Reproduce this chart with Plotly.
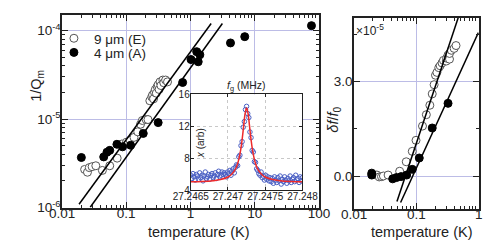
import plotly.graph_objects as go

# ---------------- Left panel: 1/Q_m vs temperature ----------------
E_T = [0.0225, 0.0249, 0.0266, 0.0294, 0.0336, 0.0425, 0.0553, 0.0722, 0.0855, 0.101,
       0.115, 0.132, 0.151, 0.167, 0.178, 0.204, 0.218, 0.233, 0.249, 0.257, 0.266,
       0.275, 0.284, 0.294, 0.304, 0.314, 0.325, 0.336, 0.347, 0.372, 0.384, 0.410, 0.439]
E_Q = [2.70e-6, 2.51e-6, 2.83e-6, 2.90e-6, 2.97e-6, 2.63e-6, 2.97e-6, 3.62e-6, 5.23e-6, 5.49e-6,
       5.76e-6, 6.21e-6, 7.18e-6, 8.74e-6, 9.64e-6, 9.88e-6, 9.88e-6, 1.61e-5, 1.78e-5, 1.87e-5, 1.69e-5,
       2.01e-5, 2.16e-5, 1.96e-5, 2.33e-5, 2.44e-5, 2.16e-5, 2.63e-5, 2.39e-5, 2.76e-5, 2.57e-5, 2.76e-5, 2.63e-5]
A_T = [0.0200, 0.0446, 0.0501, 0.0553, 0.0716, 0.0875, 0.117, 0.184, 0.314,
       0.755, 1.02, 1.25, 1.40, 1.32, 4.20, 7.00, 76.6]
A_Q = [3.68e-6, 3.74e-6, 4.22e-6, 4.43e-6, 5.19e-6, 4.86e-6, 5.06e-6, 6.89e-6, 9.12e-6,
       2.59e-5, 4.70e-5, 5.77e-5, 5.32e-5, 4.44e-5, 7.24e-5, 8.53e-5, 1.135e-4]
fitE_T = [0.0184, 2.10]
fitE_Q = [1.09e-6, 1.20e-4]
fitA_T = [0.0275, 3.14]
fitA_Q = [1.01e-6, 1.20e-4]

# ---------------- Right panel: delta f / f0 (x1e-5) ----------------
dE_T = [0.0232, 0.0253, 0.0275, 0.0295, 0.0351, 0.0538, 0.0686, 0.0857, 0.0984, 0.125,
        0.144, 0.164, 0.179, 0.192, 0.202, 0.213, 0.228, 0.240, 0.257, 0.271, 0.301,
        0.305, 0.321, 0.339, 0.339, 0.363, 0.402, 0.431]
dE_v = [0.04, -0.02, -0.01, 0.01, 0.04, 0.16, 0.46, 0.79, 1.14, 1.59,
        1.95, 2.25, 2.61, 2.90, 3.20, 3.29, 3.44, 3.50, 3.59, 3.67, 3.65,
        3.74, 3.84, 3.71, 3.89, 3.99, 4.05, 4.14]
dA_T = [0.0192, 0.0192, 0.0416, 0.0478, 0.0568, 0.0697, 0.0857, 0.111, 0.179, 0.321]
dA_v = [0.10, 0.04, -0.08, -0.04, -0.01, 0.04, 0.22, 0.58, 1.53, 2.31]
dfitE_T = [0.0487, 0.478]
dfitE_v = [-0.80, 5.08]
dfitA_T = [0.0557, 0.984]
dfitA_v = [-0.83, 4.55]

# ---------------- Inset: resonance ----------------
ins_f = [27.246500, 27.246515, 27.246530, 27.246545, 27.246560, 27.246575, 27.246590, 27.246605,
         27.246620, 27.246635, 27.246650, 27.246665, 27.246680, 27.246695, 27.246710, 27.246725,
         27.246740, 27.246755, 27.246770, 27.246785, 27.246800, 27.246815, 27.246830, 27.246845,
         27.246860, 27.246875, 27.246890, 27.246905, 27.246920, 27.246935, 27.246950, 27.246965,
         27.246980, 27.246995, 27.247010, 27.247025, 27.247040, 27.247055, 27.247070, 27.247085,
         27.247100, 27.247115, 27.247130, 27.247145, 27.247160, 27.247175, 27.247190, 27.247205,
         27.247220, 27.247235, 27.247250, 27.247265, 27.247280, 27.247295, 27.247310, 27.247325,
         27.247340, 27.247355, 27.247370, 27.247385, 27.247400, 27.247415, 27.247430, 27.247445,
         27.247460, 27.247475, 27.247490, 27.247505, 27.247520, 27.247535, 27.247550, 27.247565,
         27.247580, 27.247595, 27.247610, 27.247625, 27.247640, 27.247655, 27.247670, 27.247685,
         27.247700, 27.247715, 27.247730, 27.247745, 27.247760, 27.247775, 27.247790, 27.247805,
         27.247820, 27.247835, 27.247850, 27.247865, 27.247880, 27.247895, 27.247910, 27.247925,
         27.247940, 27.247955, 27.247970, 27.247985, 27.248000]
ins_chi = [5.9, 5.5, 6.1, 5.7, 5.3, 6.0, 5.8, 5.4, 6.2, 5.6, 5.9, 5.2, 5.8, 6.3, 5.5, 5.7, 6.0, 5.4, 5.9, 6.1, 5.6,
           5.8, 6.2, 5.5, 6.0, 6.4, 5.7, 5.9, 6.3, 6.0, 6.2,
           6.0, 5.7, 6.3, 6.1, 6.5, 5.9, 6.4, 6.7, 6.2, 6.9,
           7.2, 7.1, 8.2, 8.4, 9.6, 10.1, 11.9, 12.6, 14.1, 14.5,
           13.6, 13.1, 11.3, 10.6, 9.0, 8.8, 7.6, 7.5, 6.7, 6.5,
           6.1, 5.9, 6.3, 5.6, 5.8, 5.3, 5.9, 5.4, 5.7, 5.2,
           5.6, 5.1, 5.5, 4.9, 5.7, 5.3, 5.0, 5.6, 5.2, 5.8, 4.8, 5.4, 5.1, 5.7, 5.3,
           4.9, 5.5, 5.2, 5.8, 5.0, 5.4, 5.6, 5.1, 5.9, 5.3, 5.5, 5.0, 5.7, 5.2, 5.6]
fit_f = [27.24650, 27.24665, 27.24680, 27.24690, 27.24700, 27.24705, 27.24710, 27.24713, 27.24715,
         27.24717, 27.24719, 27.24721, 27.24723, 27.24725, 27.24727, 27.24729, 27.24731, 27.24733,
         27.24735, 27.24737, 27.24740, 27.24745, 27.24750, 27.24760, 27.24770, 27.24785, 27.24800]
fit_chi = [5.08, 5.12, 5.22, 5.36, 5.68, 6.02, 6.66, 7.36, 8.06, 9.03, 10.36, 12.01, 13.60, 14.30,
           13.60, 12.01, 10.36, 9.03, 8.06, 7.36, 6.66, 6.02, 5.68, 5.36, 5.22, 5.12, 5.08]

left_xticks = [0.01, 0.1, 1, 10, 100]
left_xtext = ["0.01", "0.1", "1", "10", "100"]
left_yticks = [1e-6, 1e-5, 1e-4]
left_ytext = ["10<sup>-6</sup>", "10<sup>-5</sup>", "10<sup>-4</sup>"]
right_xticks = [0.01, 0.1, 1]
right_xtext = ["0.01", "0.1", "1"]
right_yticks = [0, 3]
right_ytext = ["0.0", "3.0"]
ins_xticks = [27.2465, 27.247, 27.2475, 27.248]
ins_xtext = ["27.2465", "27.247", "27.2475", "27.248"]
ins_yticks = [4, 8, 12, 16]

W, H = 491, 242
FONT = "Liberation Sans, Arial, sans-serif"
INK = "#222222"
GRID = "#bcbce6"

def px(a, b):
    return [a / W, b / W]

def py(top, bottom):
    return [(H - bottom) / H, (H - top) / H]

def logminor(e0, e1):
    return [k * 10 ** e for e in range(e0, e1) for k in range(2, 10)]

fig = go.Figure()

open_marker = dict(symbol="circle", size=8, color="white", line=dict(color="#555555", width=1))
filled_marker = dict(symbol="circle", size=8, color="black", line=dict(color="black", width=1))

fig.add_trace(go.Scatter(x=E_T, y=E_Q, mode="markers", marker=open_marker,
                         name="9 \u03bcm (E)", xaxis="x", yaxis="y", legend="legend"))
fig.add_trace(go.Scatter(x=A_T, y=A_Q, mode="markers", marker=filled_marker,
                         name="4 \u03bcm (A)", xaxis="x", yaxis="y", legend="legend2"))
fig.add_trace(go.Scatter(x=fitE_T, y=fitE_Q, mode="lines", line=dict(color="black", width=1.5),
                         showlegend=False, xaxis="x", yaxis="y"))
fig.add_trace(go.Scatter(x=fitA_T, y=fitA_Q, mode="lines", line=dict(color="black", width=1.5),
                         showlegend=False, xaxis="x", yaxis="y"))

fig.add_trace(go.Scatter(x=dE_T, y=dE_v, mode="markers", marker=open_marker,
                         showlegend=False, xaxis="x2", yaxis="y2"))
fig.add_trace(go.Scatter(x=dA_T, y=dA_v, mode="markers", marker=filled_marker,
                         showlegend=False, xaxis="x2", yaxis="y2"))
fig.add_trace(go.Scatter(x=dfitE_T, y=dfitE_v, mode="lines", line=dict(color="black", width=1.5),
                         showlegend=False, xaxis="x2", yaxis="y2"))
fig.add_trace(go.Scatter(x=dfitA_T, y=dfitA_v, mode="lines", line=dict(color="black", width=1.5),
                         showlegend=False, xaxis="x2", yaxis="y2"))

fig.add_trace(go.Scatter(x=ins_f, y=ins_chi, mode="markers",
                         marker=dict(symbol="circle-open", size=4.5, color="#4a5fc4", line=dict(width=1)),
                         showlegend=False, xaxis="x3", yaxis="y3"))
fig.add_trace(go.Scatter(x=fit_f, y=fit_chi, mode="lines", line=dict(color="#ee2a2a", width=1.5, shape="spline"),
                         showlegend=False, xaxis="x3", yaxis="y3"))

common = dict(showline=True, linecolor=INK, linewidth=1.5, mirror="allticks", ticks="inside",
              tickcolor=INK, ticklen=6, tickwidth=1, zeroline=False,
              tickfont=dict(family=FONT, size=13.5, color=INK))

fig.update_layout(
    width=W, height=H, margin=dict(l=0, r=0, t=0, b=0),
    paper_bgcolor="white", plot_bgcolor="white",
    font=dict(family=FONT, color=INK),
    xaxis=dict(type="log", domain=px(38.7, 314.7), range=[-2, 2], anchor="y",
               tickvals=left_xticks, ticktext=left_xtext, showgrid=True, gridcolor=GRID, gridwidth=1,
               minor=dict(tickvals=logminor(-2, 2), ticks="inside", ticklen=3, tickcolor=INK, showgrid=False),
               ticklabelstandoff=-8, **common),
    yaxis=dict(type="log", domain=py(1, 205.5), range=[-6, -3.824], anchor="x",
               tickvals=left_yticks, ticktext=left_ytext, showgrid=True, gridcolor=GRID, gridwidth=1,
               minor=dict(tickvals=logminor(-6, -3), ticks="inside", ticklen=3, tickcolor=INK, showgrid=False),
               ticklabelstandoff=-3, **common),
    xaxis2=dict(type="log", domain=px(352.5, 486.5), range=[-2, 0], anchor="y2",
                tickvals=right_xticks, ticktext=right_xtext, showgrid=True, gridcolor=GRID, gridwidth=1,
                minor=dict(tickvals=logminor(-2, 0), ticks="inside", ticklen=3, tickcolor=INK, showgrid=False),
                ticklabelstandoff=-8, **common),
    yaxis2=dict(domain=py(4, 207), range=[-1.036, 5.02], anchor="x2",
                tickvals=right_yticks, ticktext=right_ytext, showgrid=True, gridcolor=GRID, gridwidth=1,
                minor=dict(tickvals=[1.5, 4.5], ticks="inside", ticklen=3, tickcolor=INK, showgrid=False),
                ticklabelstandoff=-3, **common),
    xaxis3=dict(domain=px(177, 297), range=[27.2465, 27.248], anchor="y3",
                tickvals=ins_xticks, ticktext=ins_xtext, showgrid=True, gridcolor="#c8c8c8",
                griddash="dot", gridwidth=1, showline=True, linecolor=INK, linewidth=1, mirror="allticks",
                ticks="inside", ticklen=3, tickcolor=INK, zeroline=False, ticklabelstandoff=-3,
                tickfont=dict(family=FONT, size=10, color=INK)),
    yaxis3=dict(domain=py(85.3, 187.3), range=[4, 16], anchor="x3",
                tickvals=ins_yticks, showgrid=True, gridcolor="#c8c8c8",
                griddash="dot", gridwidth=1, showline=True, linecolor=INK, linewidth=1, mirror="allticks",
                ticks="inside", ticklen=3, tickcolor=INK, zeroline=False, ticklabelstandoff=-2,
                tickfont=dict(family=FONT, size=10, color=INK)),
    legend=dict(x=30 / W, y=(H - 26) / H, xanchor="left", yanchor="middle", bgcolor="rgba(0,0,0,0)",
                font=dict(family=FONT, size=13.5, color=INK), itemwidth=30),
    legend2=dict(x=30 / W, y=(H - 41) / H, xanchor="left", yanchor="middle", bgcolor="rgba(0,0,0,0)",
                 font=dict(family=FONT, size=13.5, color=INK), itemwidth=30),
)

ann = [
    dict(text="temperature (K)", x=186 / W, y=(H - 231) / H, font=dict(size=14.5)),
    dict(text="temperature (K)", x=425 / W, y=(H - 231) / H, font=dict(size=14.5)),
    dict(text="1/Q<sub>m</sub>", x=11 / W, y=(H - 76) / H, textangle=-90, font=dict(size=14.5)),
    dict(text="<i>\u03b4f</i>/<i>f</i><sub>0</sub>", x=330 / W, y=(H - 112) / H, textangle=-90, font=dict(size=14.5)),
    dict(text="\u00d710<sup>-5</sup>", x=370 / W, y=(H - 17) / H, font=dict(size=12)),
    dict(text="<i>f</i><sub>g</sub> (MHz)", x=237 / W, y=(H - 76) / H, font=dict(size=10.5)),
    dict(text="<i>x</i> (arb)", x=187 / W, y=(H - 137) / H, textangle=-90, font=dict(size=10)),
]
for a in ann:
    fig.add_annotation(xref="paper", yref="paper", showarrow=False, xanchor="center", yanchor="middle",
                       text=a["text"], x=a["x"], y=a["y"], textangle=a.get("textangle", 0),
                       font=dict(family=FONT, color=INK, size=a["font"]["size"]))

fig.write_html("out.html")
